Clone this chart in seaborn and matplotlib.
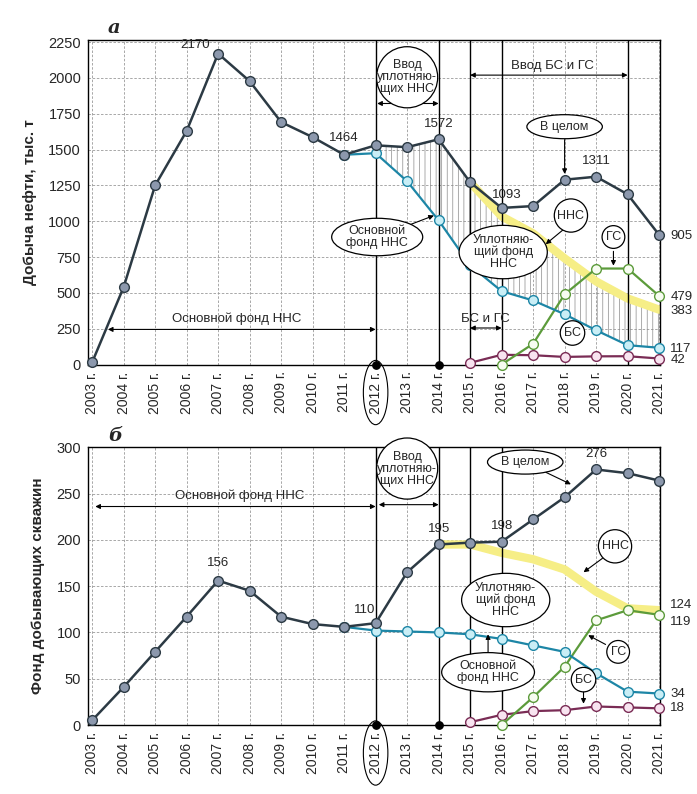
# Добыча нефти и фонд скважин, 2003-2021
import numpy as np
import pandas as pd
import matplotlib
matplotlib.use('Agg')
import matplotlib.pyplot as plt
import seaborn as sns

sns.set_style('whitegrid')
plt.rcParams['font.family'] = ['Liberation Sans', 'DejaVu Sans']
plt.rcParams['hatch.linewidth'] = 0.5

years = list(range(2003, 2022))
year_labels = [f'{y} г.' for y in years]

# --- панель а: добыча нефти, тыс. т ---
total_a = [15, 540, 1250, 1630, 2170, 1978, 1692, 1587, 1464, 1530, 1517,
           1572, 1272, 1093, 1106, 1290, 1311, 1188, 905]
base_years = list(range(2011, 2022))
base_a = [1464, 1475, 1279, 1006, 692, 512, 447, 351, 239, 135, 117]
nns_years_a = list(range(2015, 2022))
nns_a = [1272, 1034, 915, 741, 580, 461, 383]
gs_years = list(range(2016, 2022))
gs_a = [0, 145, 490, 670, 670, 479]
bs_years = list(range(2015, 2022))
bs_a = [12, 68, 65, 53, 57, 58, 42]

# --- панель б: фонд добывающих скважин ---
total_b = [5, 41, 79, 117, 156, 145, 117, 109, 106, 110, 165, 195, 197,
           198, 222, 246, 276, 272, 264]
base_b = [106, 102, 101, 100, 98, 93, 86, 79, 56, 36, 34]
nns_years_b = list(range(2014, 2022))
nns_b = [195, 195, 186, 179, 168, 144, 126, 124]
gs_b = [0, 30, 63, 113, 124, 119]
bs_b = [3, 11, 15, 16, 20, 19, 18]

C_TOTAL, F_TOTAL = '#2c3a44', '#8c98ad'
C_BASE, F_BASE = '#1d86a6', '#c9eef6'
C_NNS = '#f6ee86'
C_GS, F_GS = '#5c9b3b', '#f7fcf1'
C_BS, F_BS = '#7a2c55', '#f8e4f0'

fig = plt.figure(figsize=(6.97, 7.94), dpi=100)
ax_a = fig.add_axes([0.1263, 0.5409, 0.8207, 0.4087])
ax_b = fig.add_axes([0.1263, 0.0869, 0.8207, 0.3498])


def series(ax, x, y, color, face, z=4, lw=1.6):
    df = pd.DataFrame({'year': x, 'value': y})
    sns.lineplot(data=df, x='year', y='value', ax=ax, color=color, lw=lw,
                 marker='o', markersize=7, markerfacecolor=face,
                 markeredgecolor=color, markeredgewidth=1.0, zorder=z,
                 clip_on=False)


def nns_band(ax, x, y):
    df = pd.DataFrame({'year': x, 'value': y})
    sns.lineplot(data=df, x='year', y='value', ax=ax, color=C_NNS, lw=6,
                 solid_capstyle='round', zorder=2)


def bubble(ax, x, y, text, shape='ellipse', pad=0.25, fs=9):
    ax.text(x, y, text, ha='center', va='center', fontsize=fs, zorder=8,
            linespacing=1.0,
            bbox=dict(boxstyle=f'{shape},pad={pad}', fc='white', ec='black', lw=0.9))


def arrow(ax, start, end, style='-|>'):
    ax.annotate('', xy=end, xytext=start, zorder=7,
                arrowprops=dict(arrowstyle=style, color='black', lw=0.8,
                                mutation_scale=7, shrinkA=0, shrinkB=0))


def label(ax, x, y, text, dx=0, dy=6, ha='center', va='bottom'):
    ax.annotate(text, (x, y), xytext=(dx, dy), textcoords='offset points',
                ha=ha, va=va, fontsize=9.5, zorder=9, annotation_clip=False)


def style_axes(ax, ymax, yticks, ylabel, letter):
    ax.set_xlim(2002.87, 2021.03)
    ax.set_ylim(0, ymax)
    ax.set_xticks(years)
    ax.set_xticklabels(year_labels, rotation=90, fontsize=10)
    ax.set_yticks(yticks)
    ax.set_yticklabels([str(t) for t in yticks], fontsize=10.5)
    ax.set_xlabel('')
    ax.set_ylabel(ylabel, fontsize=11, fontweight='bold', labelpad=8)
    ax.grid(True, ls=(0, (3, 2)), color='#9a9a9a', lw=0.6)
    for s in ax.spines.values():
        s.set_visible(True)
        s.set_color('black')
        s.set_linewidth(1.0)
    ax.tick_params(axis='both', length=3, color='black', pad=2)
    lab = ax.get_xticklabels()[9]
    lab.set_bbox(dict(boxstyle='ellipse,pad=0.12', fc='none', ec='black', lw=0.8))
    ax.text(0.035, 1.008, letter, transform=ax.transAxes, fontsize=14,
            fontweight='bold', style='italic', ha='left', va='bottom',
            family=['DejaVu Serif'])
    ax.scatter([2012, 2014], [0, 0], s=28, color='black', zorder=9, clip_on=False)


# ================= панель а =================
ax = ax_a
for xv in [2012, 2014, 2015, 2016, 2020]:
    ax.axvline(xv, color='black', lw=1.0, zorder=3)

hatch_x = list(range(2012, 2022))
hatch_top = [total_a[years.index(y)] if y < 2015 else nns_a[nns_years_a.index(y)]
             for y in hatch_x]
hatch_bot = base_a[1:]
ax.fill_between(hatch_x, hatch_bot, hatch_top, facecolor='none',
                edgecolor='#8a8a8a', hatch='|||', linewidth=0, zorder=1)

nns_band(ax, nns_years_a, nns_a)
series(ax, bs_years, bs_a, C_BS, F_BS)
series(ax, gs_years, gs_a, C_GS, F_GS)
series(ax, base_years, base_a, C_BASE, F_BASE)
series(ax, years, total_a, C_TOTAL, F_TOTAL, z=5, lw=1.8)
style_axes(ax, 2265, [0, 250, 500, 750, 1000, 1250, 1500, 1750, 2000, 2250],
           'Добыча нефти, тыс. т', 'а')

label(ax, 2007, 2170, '2170', dx=-6, dy=2, ha='right')
label(ax, 2011, 1464, '1464', dy=8)
label(ax, 2014, 1572, '1572', dy=7)
label(ax, 2016, 1093, '1093', dx=4, dy=5)
label(ax, 2019, 1311, '1311', dy=7)
for val in [905, 479, 383, 117, 42]:
    label(ax, 2021, val, str(val), dx=8, dy=-1, ha='left', va='center')

bubble(ax, 2013, 2005, 'Ввод\nуплотняю-\nщих ННС', shape='circle', pad=0.05)
arrow(ax, (2012.05, 1822), (2014, 1822), '<|-|>')
ax.text(2017.6, 2085, 'Ввод БС и ГС', ha='center', va='center', fontsize=9.5)
arrow(ax, (2015, 2020), (2020, 2020), '<|-|>')
bubble(ax, 2018.0, 1660, 'В целом', pad=0.2)
arrow(ax, (2018.0, 1570), (2018.0, 1330))
bubble(ax, 2012.05, 890, 'Основной\nфонд ННС', pad=0.1)
arrow(ax, (2012.9, 960), (2013.85, 1040))
bubble(ax, 2016.05, 785, 'Уплотняю-\nщий фонд\nННС', pad=0.05)
bubble(ax, 2018.2, 1040, 'ННС', shape='circle', pad=0.25)
arrow(ax, (2017.95, 940), (2017.4, 840))
bubble(ax, 2019.55, 890, 'ГС', shape='circle', pad=0.3)
arrow(ax, (2019.55, 790), (2019.55, 690))
bubble(ax, 2018.25, 220, 'БС', shape='circle', pad=0.3)
ax.text(2007.6, 320, 'Основной фонд ННС', ha='center', va='center', fontsize=9.5)
arrow(ax, (2012, 245), (2003.5, 245), '<|-|>')
ax.text(2015.5, 318, 'БС и ГС', ha='center', va='center', fontsize=9.5)
arrow(ax, (2015, 255), (2016, 255), '<|-|>')

# ================= панель б =================
ax = ax_b
for xv in [2012, 2014, 2015, 2016]:
    ax.axvline(xv, color='black', lw=1.0, zorder=3)

nns_band(ax, nns_years_b, nns_b)
series(ax, bs_years, bs_b, C_BS, F_BS)
series(ax, gs_years, gs_b, C_GS, F_GS)
series(ax, base_years, base_b, C_BASE, F_BASE)
series(ax, years, total_b, C_TOTAL, F_TOTAL, z=5, lw=1.8)
style_axes(ax, 300, [0, 50, 100, 150, 200, 250, 300],
           'Фонд добывающих скважин', 'б')

label(ax, 2007, 156, '156', dy=8)
label(ax, 2012, 110, '110', dx=-8, dy=5)
label(ax, 2014, 195, '195', dy=7)
label(ax, 2016, 198, '198', dy=7)
label(ax, 2019, 276, '276', dy=7)
for val, off in [(124, 4), (119, -5), (34, 0), (18, 0)]:
    label(ax, 2021, val, str(val), dx=8, dy=off, ha='left', va='center')

ax.text(2007.7, 248, 'Основной фонд ННС', ha='center', va='center', fontsize=9.5)
arrow(ax, (2012, 236), (2003.1, 236), '<|-|>')
bubble(ax, 2013, 277, 'Ввод\nуплотняю-\nщих ННС', shape='circle', pad=0.05)
arrow(ax, (2012.1, 238), (2014, 238), '<|-|>')
bubble(ax, 2016.75, 284, 'В целом', pad=0.2)
arrow(ax, (2017.4, 273), (2018.2, 260))
bubble(ax, 2019.6, 193, 'ННС', shape='circle', pad=0.25)
arrow(ax, (2019.2, 180), (2018.6, 165))
bubble(ax, 2016.13, 135, 'Уплотняю-\nщий фонд\nННС', pad=0.05)
bubble(ax, 2015.57, 57, 'Основной\nфонд ННС', pad=0.15)
arrow(ax, (2015.57, 76), (2015.57, 98))
bubble(ax, 2019.7, 79, 'ГС', shape='circle', pad=0.3)
arrow(ax, (2019.3, 87), (2018.75, 97))
bubble(ax, 2018.6, 49, 'БС', shape='circle', pad=0.3)
arrow(ax, (2018.6, 38), (2018.6, 23))

fig.savefig('out.png', dpi=100, facecolor='white')
